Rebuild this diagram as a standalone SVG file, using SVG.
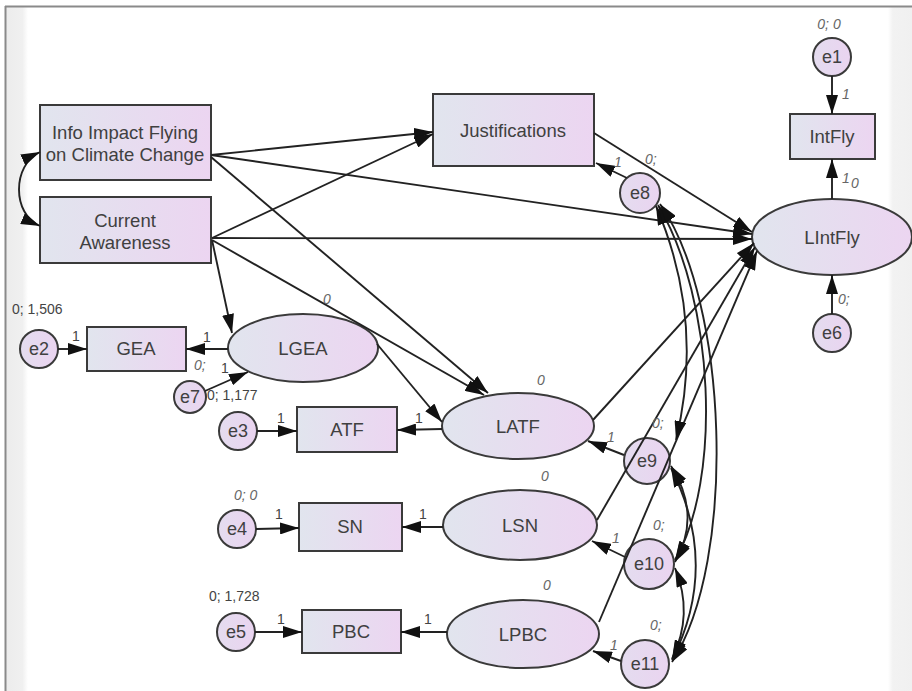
<svg xmlns="http://www.w3.org/2000/svg" width="912" height="691" viewBox="0 0 912 691">
<defs>
<linearGradient id="g" x1="0" y1="0" x2="1" y2="0">
<stop offset="0" stop-color="#e1e5ee"/>
<stop offset="1" stop-color="#ecd5f1"/>
</linearGradient>
<linearGradient id="gc" x1="0" y1="0" x2="1" y2="0">
<stop offset="0" stop-color="#e4dcef"/>
<stop offset="1" stop-color="#ead4f0"/>
</linearGradient>
<linearGradient id="strip" x1="0" y1="0" x2="1" y2="0">
<stop offset="0" stop-color="#ececec"/>
<stop offset="0.75" stop-color="#f0f0f0"/>
<stop offset="1" stop-color="#ffffff"/>
</linearGradient>
<linearGradient id="strip2" x1="0" y1="0" x2="1" y2="0">
<stop offset="0" stop-color="#ffffff"/>
<stop offset="0.2" stop-color="#f2f2f2"/>
<stop offset="1" stop-color="#f0f0f0"/>
</linearGradient>
<marker id="a" markerUnits="userSpaceOnUse" markerWidth="20" markerHeight="12" refX="19" refY="6" orient="auto-start-reverse" viewBox="0 0 20 12">
<path d="M0,0 L19,6 L0,12 z" fill="#111"/>
</marker>
</defs>
<style>
.box{fill:url(#g);stroke:#3a3a3a;stroke-width:2}
.ell{fill:url(#g);stroke:#3a3a3a;stroke-width:2}
.cir{fill:url(#gc);stroke:#3a3a3a;stroke-width:2}
.t{font-family:"Liberation Sans",Arial,sans-serif;font-size:18.5px;fill:#404040;text-anchor:middle}
.tc{font-family:"Liberation Sans",Arial,sans-serif;font-size:18px;fill:#404040;text-anchor:middle}
.s{font-family:"Liberation Sans",Arial,sans-serif;font-size:14px;fill:#444}
.si{font-family:"Liberation Sans",Arial,sans-serif;font-size:14px;fill:#666;font-style:italic}
.c{fill:none;stroke:#222;stroke-width:1.9}
.ar{marker-end:url(#a)}
.dbl{marker-start:url(#a);marker-end:url(#a)}
</style>
<rect x="0" y="0" width="912" height="691" fill="#fff"/>
<rect x="6" y="7" width="22" height="684" fill="url(#strip)"/>
<rect x="888" y="7" width="24" height="684" fill="url(#strip2)"/>
<line x1="5.5" y1="6" x2="5.5" y2="691" stroke="#8a8a8a" stroke-width="2"/>
<line x1="5" y1="6.5" x2="912" y2="6.5" stroke="#8a8a8a" stroke-width="2"/>

<g id="nodes">
<g id="info"><rect class="box" x="40" y="105" width="171" height="75"/><text class="t" x="125" y="139">Info Impact Flying</text><text class="t" x="125" y="161">on Climate Change</text></g>
<g id="current"><rect class="box" x="40" y="197" width="171" height="66"/><text class="t" x="125" y="227">Current</text><text class="t" x="125" y="249">Awareness</text></g>
<g id="justifications"><rect class="box" x="433" y="94" width="161" height="72"/><text class="t" x="513" y="137">Justifications</text></g>
<g id="intfly"><rect class="box" x="790" y="114" width="85" height="45"/><text class="t" x="832" y="143">IntFly</text></g>
<g id="e1"><circle class="cir" cx="832" cy="57" r="19"/><text class="tc" x="832" y="63">e1</text></g>
<g id="lintfly"><ellipse class="ell" cx="832" cy="237" rx="80" ry="38"/><text class="t" x="832" y="244">LIntFly</text></g>
<g id="e6"><circle class="cir" cx="832" cy="333" r="19"/><text class="tc" x="832" y="339">e6</text></g>
<g id="e8"><circle class="cir" cx="640" cy="193" r="20"/><text class="tc" x="640" y="199">e8</text></g>
<g id="lgea"><ellipse class="ell" cx="303" cy="348" rx="75" ry="34"/><text class="t" x="303" y="355">LGEA</text></g>
<g id="gea"><rect class="box" x="87" y="327" width="99" height="44"/><text class="t" x="136" y="355">GEA</text></g>
<g id="e2"><circle class="cir" cx="39" cy="349" r="19"/><text class="tc" x="39" y="355">e2</text></g>
<g id="e7"><circle class="cir" cx="190" cy="397" r="16"/><text class="tc" x="190" y="403">e7</text></g>
<g id="atf"><rect class="box" x="297" y="407" width="100" height="45"/><text class="t" x="347" y="436">ATF</text></g>
<g id="e3"><circle class="cir" cx="238" cy="431" r="19"/><text class="tc" x="238" y="437">e3</text></g>
<g id="latf"><ellipse class="ell" cx="518" cy="426" rx="76" ry="33"/><text class="t" x="518" y="433">LATF</text></g>
<g id="e9"><circle class="cir" cx="647" cy="461" r="23"/><text class="tc" x="647" y="467">e9</text></g>
<g id="sn"><rect class="box" x="299" y="503" width="103" height="48"/><text class="t" x="350" y="533">SN</text></g>
<g id="e4"><circle class="cir" cx="237" cy="529" r="19"/><text class="tc" x="237" y="535">e4</text></g>
<g id="lsn"><ellipse class="ell" cx="520" cy="525" rx="77" ry="35"/><text class="t" x="520" y="532">LSN</text></g>
<g id="e10"><circle class="cir" cx="649" cy="564" r="25"/><text class="tc" x="649" y="570">e10</text></g>
<g id="pbc"><rect class="box" x="302" y="610" width="99" height="43"/><text class="t" x="351" y="638">PBC</text></g>
<g id="e5"><circle class="cir" cx="236" cy="632" r="19"/><text class="tc" x="236" y="638">e5</text></g>
<g id="lpbc"><ellipse class="ell" cx="523" cy="634" rx="76" ry="34"/><text class="t" x="523" y="641">LPBC</text></g>
<g id="e11"><circle class="cir" cx="645" cy="664" r="24"/><text class="tc" x="645" y="670">e11</text></g>
</g>

<g id="connectors">
<path class="c dbl" d="M40,152 C12,165 12,214 40,226"/>
<line class="c ar" x1="211" y1="155" x2="433" y2="132"/>
<line class="c ar" x1="212" y1="238" x2="433" y2="134"/>
<line class="c ar" x1="211" y1="155" x2="752" y2="234"/>
<line class="c ar" x1="212" y1="238" x2="752" y2="239"/>
<line class="c ar" x1="594" y1="133" x2="752" y2="232"/>
<line class="c ar" x1="211" y1="157" x2="488" y2="393"/>
<line class="c ar" x1="212" y1="240" x2="484" y2="395"/>
<line class="c ar" x1="212" y1="240" x2="232" y2="333"/>
<line class="c ar" x1="377" y1="344" x2="442" y2="422"/>
<line class="c ar" x1="593" y1="420" x2="754" y2="243"/>
<line class="c ar" x1="597" y1="520" x2="755" y2="247"/>
<line class="c ar" x1="599" y1="622" x2="757" y2="251"/>
<line class="c ar" x1="832" y1="76" x2="832" y2="114"/>
<line class="c ar" x1="832" y1="199" x2="832" y2="159"/>
<line class="c ar" x1="832" y1="314" x2="832" y2="275"/>
<line class="c ar" x1="627" y1="178" x2="596" y2="163"/>
<line class="c ar" x1="58" y1="349" x2="87" y2="349"/>
<line class="c ar" x1="228" y1="349" x2="186" y2="349"/>
<line class="c ar" x1="205" y1="391" x2="248" y2="372"/>
<line class="c ar" x1="257" y1="431" x2="297" y2="431"/>
<line class="c ar" x1="442" y1="429" x2="397" y2="430"/>
<line class="c ar" x1="256" y1="529" x2="299" y2="528"/>
<line class="c ar" x1="443" y1="527" x2="402" y2="527"/>
<line class="c ar" x1="255" y1="632" x2="302" y2="632"/>
<line class="c ar" x1="447" y1="632" x2="401" y2="632"/>
<line class="c ar" x1="624" y1="455" x2="588" y2="441"/>
<line class="c ar" x1="625" y1="557" x2="592" y2="541"/>
<line class="c ar" x1="621" y1="661" x2="593" y2="651"/>
<path class="c dbl" d="M656,206 Q705,320 676,440"/>
<path class="c dbl" d="M658,205 C715,300 722,480 675,560"/>
<path class="c dbl" d="M660,204 C728,300 738,560 672,662"/>
<path class="c dbl" d="M671,466 Q702,515 675,562"/>
<path class="c dbl" d="M671,468 Q720,565 672,660"/>
<path class="c dbl" d="M675,568 Q694,614 672,659"/>
</g>

<g id="labels">
<text class="s" x="12" y="314">0; 1,506</text>
<text class="s" x="72" y="341">1</text>
<text class="s" x="203" y="342">1</text>
<text class="si" x="194" y="370">0;</text>
<text class="s" x="221" y="373">1</text>
<text class="s" x="207" y="400">0; 1,177</text>
<text class="si" x="323" y="304">0</text>
<text class="s" x="277" y="423">1</text>
<text class="s" x="415" y="423">1</text>
<text class="si" x="537" y="385">0</text>
<text class="si" x="607" y="442">1</text>
<text class="si" x="652" y="428">0;</text>
<text class="si" x="234" y="500">0; 0</text>
<text class="s" x="275" y="519">1</text>
<text class="s" x="419" y="519">1</text>
<text class="si" x="541" y="481">0</text>
<text class="si" x="612" y="543">1</text>
<text class="si" x="653" y="530">0;</text>
<text class="s" x="209" y="601">0; 1,728</text>
<text class="s" x="277" y="624">1</text>
<text class="s" x="424" y="624">1</text>
<text class="si" x="543" y="590">0</text>
<text class="si" x="610" y="650">1</text>
<text class="si" x="650" y="630">0;</text>
<text class="si" x="614" y="167">1</text>
<text class="si" x="645" y="164">0;</text>
<text class="si" x="829" y="29" text-anchor="middle">0; 0</text>
<text class="si" x="842" y="99" font-size="10">1</text>
<text class="si" x="842" y="183" font-size="10">1</text>
<text class="si" x="851" y="188">0</text>
<text class="si" x="838" y="304">0;</text>
</g>
</svg>
